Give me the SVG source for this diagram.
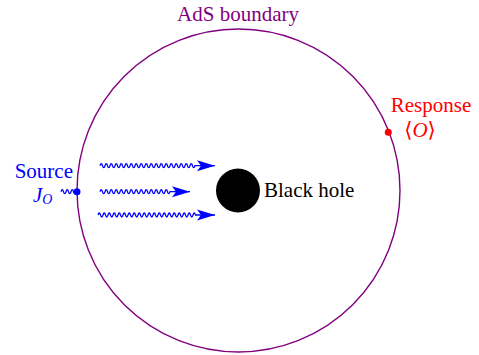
<svg xmlns="http://www.w3.org/2000/svg" width="479" height="355" viewBox="0 0 479 355">
<style>
text{font-family:"Liberation Serif","Times New Roman",Times,"DejaVu Serif",serif;font-size:21px}
.purple{fill:#800080}
.blue{fill:#0000ff}
.red{fill:#ff0000}
.wave{fill:none;stroke:#0000ff;stroke-width:1.3}
</style>
<defs>
<marker id="stealth" markerUnits="userSpaceOnUse" markerWidth="20" markerHeight="14" refX="18" refY="6" orient="auto" viewBox="0 0 20 12">
<path d="M18,6 L0,0.5 L4,6 L0,11.5 z" fill="#0000ff"/>
</marker>
</defs>
<g id="ads-boundary">
<circle cx="238.5" cy="190.5" r="161.5" fill="none" stroke="#800080" stroke-width="1.4"/>
<text class="purple" x="238" y="21" text-anchor="middle" font-family="Liberation Serif, serif">AdS boundary</text>
</g>
<g id="black-hole">
<circle cx="238" cy="190.5" r="22" fill="#000"/>
<text x="264" y="197" fill="#000" font-family="Liberation Serif, serif">Black hole</text>
</g>
<g id="source">
<circle cx="77" cy="191.7" r="3.5" fill="#0000ff"/>
<path class="wave" d="M61,191.7 q1.25,-4 2.5,0 t2.5,0 t2.5,0 t2.5,0 t2.5,0 t2.5,0 H77"/>
<text class="blue" x="73" y="178" text-anchor="end" font-family="Liberation Serif, serif">Source</text>
<text class="blue" x="33" y="202" font-style="italic" font-family="Liberation Serif, serif">J<tspan font-size="14" dy="2">O</tspan></text>
</g>
<g id="response">
<circle cx="388.3" cy="132.3" r="3.5" fill="#ff0000"/>
<text class="red" x="431" y="112" text-anchor="middle" font-family="Liberation Serif, serif">Response</text>
<text class="red" x="420" y="137" text-anchor="middle" font-family="Liberation Serif, DejaVu Serif, serif">⟨<tspan font-style="italic">O</tspan>⟩</text>
</g>
<g id="connectors">
<path class="wave" marker-end="url(#stealth)" d="M100,165.7 q1.25,-4 2.5,0 t2.5,0 t2.5,0 t2.5,0 t2.5,0 t2.5,0 t2.5,0 t2.5,0 t2.5,0 t2.5,0 t2.5,0 t2.5,0 t2.5,0 t2.5,0 t2.5,0 t2.5,0 t2.5,0 t2.5,0 t2.5,0 t2.5,0 t2.5,0 t2.5,0 t2.5,0 t2.5,0 t2.5,0 t2.5,0 t2.5,0 t2.5,0 t2.5,0 t2.5,0 t2.5,0 t2.5,0 t2.5,0 t2.5,0 t2.5,0 t2.5,0 t2.5,0 t2.5,0 H215"/>
<path class="wave" marker-end="url(#stealth)" d="M100,191.7 q1.25,-4 2.5,0 t2.5,0 t2.5,0 t2.5,0 t2.5,0 t2.5,0 t2.5,0 t2.5,0 t2.5,0 t2.5,0 t2.5,0 t2.5,0 t2.5,0 t2.5,0 t2.5,0 t2.5,0 t2.5,0 t2.5,0 t2.5,0 t2.5,0 t2.5,0 t2.5,0 t2.5,0 t2.5,0 t2.5,0 t2.5,0 t2.5,0 t2.5,0 H190"/>
<path class="wave" marker-end="url(#stealth)" d="M98,215 q1.25,-4 2.5,0 t2.5,0 t2.5,0 t2.5,0 t2.5,0 t2.5,0 t2.5,0 t2.5,0 t2.5,0 t2.5,0 t2.5,0 t2.5,0 t2.5,0 t2.5,0 t2.5,0 t2.5,0 t2.5,0 t2.5,0 t2.5,0 t2.5,0 t2.5,0 t2.5,0 t2.5,0 t2.5,0 t2.5,0 t2.5,0 t2.5,0 t2.5,0 t2.5,0 t2.5,0 t2.5,0 t2.5,0 t2.5,0 t2.5,0 t2.5,0 t2.5,0 t2.5,0 t2.5,0 t2.5,0 H215"/>
</g>
</svg>
